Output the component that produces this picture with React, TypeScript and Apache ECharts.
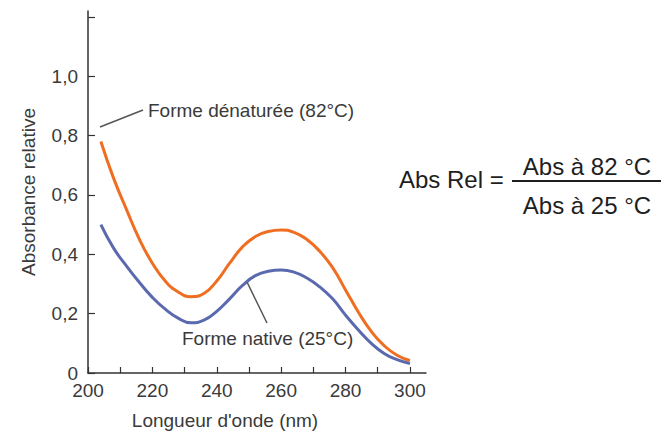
import React, { useEffect, useRef } from "react";
import * as echarts from "echarts";

const wavelengths = [204, 208, 212, 216, 220, 224, 228, 232, 236, 240, 244, 248, 252, 256, 260, 264, 268, 272, 276, 280, 284, 288, 292, 296, 300];
const absDenatured = [0.78, 0.655, 0.55, 0.45, 0.37, 0.31, 0.273, 0.257, 0.268, 0.31, 0.37, 0.425, 0.46, 0.477, 0.482, 0.474, 0.45, 0.41, 0.355, 0.28, 0.205, 0.14, 0.092, 0.06, 0.042];
const absNative = [0.5, 0.42, 0.36, 0.305, 0.255, 0.215, 0.185, 0.169, 0.178, 0.208, 0.25, 0.295, 0.328, 0.343, 0.347, 0.34, 0.32, 0.29, 0.25, 0.195, 0.145, 0.1, 0.066, 0.045, 0.032];

const xTicks = [200, 210, 220, 230, 240, 250, 260, 270, 280, 290, 300];
const xTickLabels = [200, 220, 240, 260, 280, 300];
const yTicks = [0, 0.2, 0.4, 0.6, 0.8, 1.0, 1.2];
const yTickLabels = [0, 0.2, 0.4, 0.6, 0.8, 1.0];

const FONT = "'Liberation Sans', Arial, sans-serif";
const TEXT = "#3a3a3a";

export default function App() {
  const ref = useRef<HTMLDivElement>(null);
  useEffect(() => {
    document.body.style.margin = "0";
    const chart = echarts.init(ref.current!, undefined, { renderer: "svg" });
    const pair = (ys: number[]) => wavelengths.map((x, i) => [x, ys[i]]);
    chart.setOption({
      animation: false,
      backgroundColor: "#ffffff",
      grid: { left: 88, top: 11, width: 338, height: 362, containLabel: false },
      xAxis: {
        type: "value",
        min: 200,
        max: 305,
        interval: 10,
        axisLine: { show: true, lineStyle: { color: "#333", width: 1.5 } },
        axisTick: { show: true, inside: true, length: 6, customValues: xTicks, lineStyle: { color: "#333", width: 1.2 } },
        axisLabel: {
          customValues: xTickLabels,
          color: TEXT,
          fontSize: 19,
          fontFamily: FONT,
          margin: 8,
          formatter: (v: number) => String(v),
        },
        splitLine: { show: false },
      },
      yAxis: {
        type: "value",
        min: 0,
        max: 1.22,
        interval: 0.2,
        name: "Absorbance relative",
        nameLocation: "middle",
        nameGap: 50,
        nameTextStyle: { color: TEXT, fontSize: 19, fontFamily: FONT },
        axisLine: { show: true, lineStyle: { color: "#333", width: 1.5 } },
        axisTick: { show: true, inside: true, length: 7, customValues: yTicks, lineStyle: { color: "#333", width: 1.2 } },
        axisLabel: {
          customValues: yTickLabels,
          color: TEXT,
          fontSize: 19,
          fontFamily: FONT,
          margin: 10,
          formatter: (v: number) => (v === 0 ? "0" : v.toFixed(1).replace(".", ",")),
        },
        splitLine: { show: false },
      },
      series: [
        {
          name: "Forme dénaturée (82°C)",
          type: "line",
          smooth: 0.5,
          showSymbol: false,
          data: pair(absDenatured),
          lineStyle: { color: "#ef6e22", width: 3 },
          itemStyle: { color: "#ef6e22" },
        },
        {
          name: "Forme native (25°C)",
          type: "line",
          smooth: 0.5,
          showSymbol: false,
          data: pair(absNative),
          lineStyle: { color: "#5b69ae", width: 3 },
          itemStyle: { color: "#5b69ae" },
        },
      ],
      graphic: [
        {
          type: "text",
          x: 225,
          y: 420,
          style: { text: "Longueur d'onde (nm)", fill: TEXT, font: `19px ${FONT}`, align: "center", verticalAlign: "middle" },
        },
        {
          type: "line",
          shape: { x1: 100, y1: 127, x2: 143, y2: 110 },
          style: { stroke: "#555", lineWidth: 1.5 },
        },
        {
          type: "text",
          x: 148,
          y: 110,
          style: { text: "Forme dénaturée (82°C)", fill: TEXT, font: `19px ${FONT}`, verticalAlign: "middle" },
        },
        {
          type: "line",
          shape: { x1: 247, y1: 282, x2: 267, y2: 323 },
          style: { stroke: "#555", lineWidth: 1.5 },
        },
        {
          type: "text",
          x: 182,
          y: 338,
          style: { text: "Forme native (25°C)", fill: TEXT, font: `19px ${FONT}`, verticalAlign: "middle" },
        },
        {
          type: "text",
          x: 399,
          y: 179,
          style: { text: "Abs Rel =", fill: "#1e1e1e", font: `24px ${FONT}`, verticalAlign: "middle" },
        },
        {
          type: "line",
          shape: { x1: 512, y1: 181, x2: 661, y2: 181 },
          style: { stroke: "#1e1e1e", lineWidth: 2 },
        },
        {
          type: "text",
          x: 587,
          y: 166,
          style: { text: "Abs à 82 °C", fill: "#1e1e1e", font: `24px ${FONT}`, align: "center", verticalAlign: "middle" },
        },
        {
          type: "text",
          x: 587,
          y: 205,
          style: { text: "Abs à 25 °C", fill: "#1e1e1e", font: `24px ${FONT}`, align: "center", verticalAlign: "middle" },
        },
      ],
    });
    return () => chart.dispose();
  }, []);
  return <div ref={ref} style={{ position: "fixed", left: 0, top: 0, width: 669, height: 432 }} />;
}
